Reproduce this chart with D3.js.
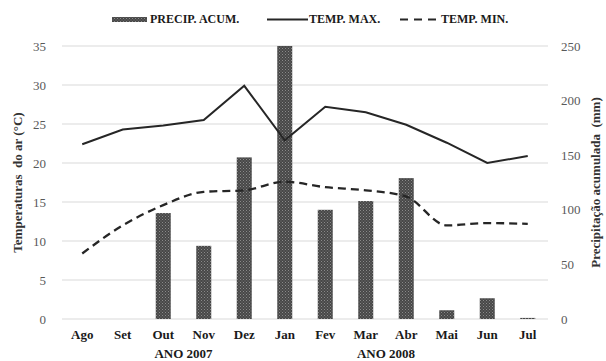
<!DOCTYPE html>
<html>
<head>
<meta charset="utf-8">
<script src="https://cdn.jsdelivr.net/npm/d3@7"></script>
<style>
  body { margin: 0; background: #fff; }
  svg text { font-family: "Liberation Serif", "DejaVu Serif", serif !important; }
</style>
</head>
<body>
<div id="chart"></div>
<script>
// data
const months = ["Ago", "Set", "Out", "Nov", "Dez", "Jan", "Fev", "Mar", "Abr", "Mai", "Jun", "Jul"];
const precip = [0, 0, 97, 67, 148, 250, 100, 108, 129, 8, 19, 1];
const tempMax = [22.4, 24.3, 24.8, 25.5, 29.9, 22.9, 27.2, 26.5, 24.9, 22.6, 20.0, 20.9];
const tempMin = [8.4, 12.0, 14.6, 16.3, 16.5, 17.6, 16.9, 16.5, 15.7, 12.0, 12.3, 12.2];
const tempTicks = [0, 5, 10, 15, 20, 25, 30, 35];
const precTicks = [0, 50, 100, 150, 200, 250];
const years = [{ label: "ANO 2007", from: "Out", to: "Nov" }, { label: "ANO 2008", from: "Mar", to: "Abr" }];

const width = 606;
const height = 361;
const margin = { top: 46, right: 58, bottom: 42, left: 62 };

const svg = d3.select("#chart")
  .append("svg")
  .attr("width", width)
  .attr("height", height)
  .attr("font-family", "Liberation Serif");

// dotted fill for the bars
const defs = svg.append("defs");
const pat = defs.append("pattern")
  .attr("id", "dots")
  .attr("width", 3)
  .attr("height", 3)
  .attr("patternUnits", "userSpaceOnUse");
pat.append("rect").attr("width", 3).attr("height", 3).attr("fill", "#474747");
pat.append("rect").attr("x", 0).attr("y", 0).attr("width", 1).attr("height", 1).attr("fill", "#8a8a8a");
pat.append("rect").attr("x", 1.5).attr("y", 1.5).attr("width", 1).attr("height", 1).attr("fill", "#7a7a7a");

const x = d3.scaleBand()
  .domain(months)
  .range([margin.left, width - margin.right]);

const yT = d3.scaleLinear()
  .domain([0, 35])
  .range([height - margin.bottom, margin.top]);

const yP = d3.scaleLinear()
  .domain([0, 250])
  .range([height - margin.bottom, margin.top]);

// grid
svg.append("g")
  .selectAll("line")
  .data(tempTicks)
  .join("line")
  .attr("x1", margin.left)
  .attr("x2", width - margin.right)
  .attr("y1", d => yT(d))
  .attr("y2", d => yT(d))
  .attr("stroke", "#d9d9d9")
  .attr("stroke-width", 1);

// left axis
svg.append("g")
  .attr("transform", `translate(${margin.left},0)`)
  .call(d3.axisLeft(yT).tickValues(tempTicks).tickSize(0).tickPadding(16))
  .call(g => g.select(".domain").remove())
  .call(g => g.attr("font-family", null))
  .call(g => g.selectAll("text").attr("font-size", 13).attr("fill", "#595959"));

// right axis
svg.append("g")
  .attr("transform", `translate(${width - margin.right},0)`)
  .call(d3.axisRight(yP).tickValues(precTicks).tickSize(0).tickPadding(13))
  .call(g => g.select(".domain").remove())
  .call(g => g.attr("font-family", null))
  .call(g => g.selectAll("text").attr("font-size", 13).attr("fill", "#595959"));

// bars
svg.append("g")
  .selectAll("rect")
  .data(months.map((m, i) => ({ m, v: precip[i] })).filter(d => d.v > 0))
  .join("rect")
  .attr("x", d => x(d.m) + x.bandwidth() / 2 - 7.5)
  .attr("width", 15)
  .attr("y", d => yP(d.v))
  .attr("height", d => yP(0) - yP(d.v))
  .attr("fill", "url(#dots)");

// lines
const cx = (d, i) => x(months[i]) + x.bandwidth() / 2;
svg.append("path")
  .datum(tempMax)
  .attr("fill", "none")
  .attr("stroke", "#262626")
  .attr("stroke-width", 2)
  .attr("d", d3.line().x(cx).y(d => yT(d)));

svg.append("path")
  .datum(tempMin)
  .attr("fill", "none")
  .attr("stroke", "#262626")
  .attr("stroke-width", 2.3)
  .attr("stroke-dasharray", "8,5")
  .attr("d", d3.line().x(cx).y(d => yT(d)).curve(d3.curveMonotoneX));

// month labels
svg.append("g")
  .selectAll("text")
  .data(months)
  .join("text")
  .attr("x", d => x(d) + x.bandwidth() / 2)
  .attr("y", 339)
  .attr("text-anchor", "middle")
  .attr("font-size", 13)
  .attr("font-weight", "bold")
  .attr("fill", "#1a1a1a")
  .text(d => d);

// year labels
svg.append("g")
  .selectAll("text")
  .data(years)
  .join("text")
  .attr("x", d => (x(d.from) + x(d.to) + x.bandwidth()) / 2)
  .attr("y", 358)
  .attr("text-anchor", "middle")
  .attr("font-size", 13)
  .attr("font-weight", "bold")
  .attr("fill", "#1a1a1a")
  .text(d => d.label);

// axis titles
svg.append("text")
  .attr("transform", `translate(22,${(margin.top + height - margin.bottom) / 2}) rotate(-90)`)
  .attr("text-anchor", "middle")
  .attr("font-size", 13)
  .attr("font-weight", "bold")
  .attr("fill", "#333")
  .attr("xml:space", "preserve")
  .text("Temperaturas  do ar (°C)");

svg.append("text")
  .attr("transform", `translate(600,${(margin.top + height - margin.bottom) / 2}) rotate(-90)`)
  .attr("text-anchor", "middle")
  .attr("font-size", 13)
  .attr("font-weight", "bold")
  .attr("fill", "#333")
  .attr("xml:space", "preserve")
  .text("Precipitação acumulada  (mm)");

// legend
const lg = svg.append("g").attr("font-size", 12).attr("font-weight", "bold").attr("fill", "#1a1a1a");
lg.append("rect").attr("x", 112).attr("y", 17).attr("width", 35).attr("height", 5).attr("fill", "url(#dots)");
lg.append("text").attr("x", 150).attr("y", 23).text("PRECIP. ACUM.");
lg.append("line").attr("x1", 267).attr("x2", 308).attr("y1", 19.5).attr("y2", 19.5)
  .attr("stroke", "#262626").attr("stroke-width", 2);
lg.append("text").attr("x", 309).attr("y", 23).text("TEMP. MAX.");
lg.append("line").attr("x1", 400).attr("x2", 440).attr("y1", 19.5).attr("y2", 19.5)
  .attr("stroke", "#262626").attr("stroke-width", 2).attr("stroke-dasharray", "8,6");
lg.append("text").attr("x", 441).attr("y", 23).text("TEMP. MIN.");
</script>
</body>
</html>
